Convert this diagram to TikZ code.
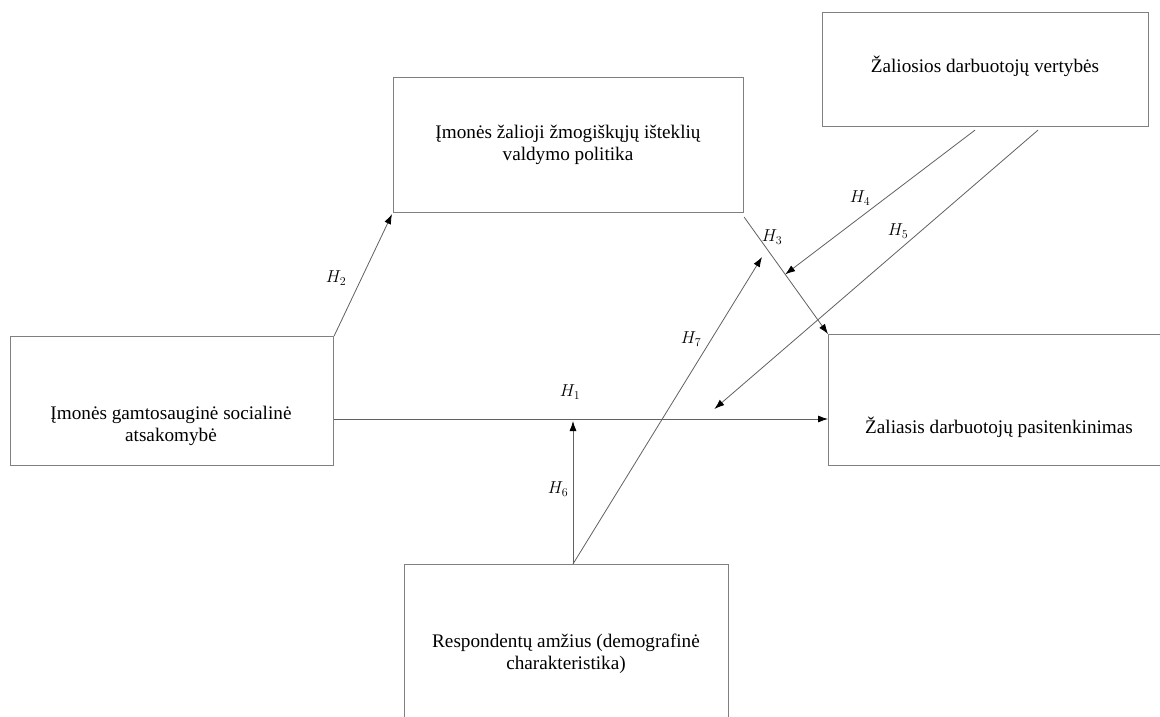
\documentclass[tikz,border=0pt]{standalone}
\usepackage{fontspec}
\setmainfont{Liberation Serif}
\usetikzlibrary{arrows.meta,calc}
\begin{document}
\begin{tikzpicture}[x=1pt,y=-1pt,
  box/.style={draw=black!50,line width=1.1pt,rectangle,inner sep=0pt,anchor=north west},
  txt/.style={align=center,font=\fontsize{19.2}{22}\selectfont,inner sep=0pt},
  hyp/.style={font=\fontsize{16.5}{19}\selectfont,inner sep=0pt},
  arr/.style={draw=black!62,line width=0.8pt,-{Latex[length=10pt,width=7pt,color=black]}},
  ln/.style={draw=black!62,line width=0.8pt}]
\clip (0,0) rectangle (1160,717);
\fill[white] (0,0) rectangle (1160,717);
% boxes
\node[box,minimum width=323pt,minimum height=129pt] (A) at (10,336) {};
\node[box,minimum width=350pt,minimum height=135pt] (B) at (393,77) {};
\node[box,minimum width=326pt,minimum height=114pt] (C) at (822,12) {};
\node[box,minimum width=342pt,minimum height=131pt] (D) at (828,334) {};
\node[box,minimum width=324pt,minimum height=180pt] (E) at (404,564) {};
% texts
\node[txt] (tA) at (171,426) {Įmonės gamtosauginė socialinė\\atsakomybė};
\node[txt] (tB) at (568,145) {Įmonės žalioji žmogiškųjų išteklių\\valdymo politika};
\node[txt] (tC) at (985,66) {Žaliosios darbuotojų vertybės};
\node[txt] (tD) at (999,427) {Žaliasis darbuotojų pasitenkinimas};
\node[txt] (tE) at (566,654) {Respondentų amžius (demografinė\\charakteristika)};
% connector end points
\coordinate (a1) at ($(A.north east)+(0,83)$);
\coordinate (d1) at ($(D.north west)+(0,85)$);
\coordinate (b2) at ($(B.south west)+(-1,1)$);
\coordinate (b3) at ($(B.south east)+(0,4)$);
\coordinate (c4) at ($(C.south west)+(153,3)$);
\coordinate (c5) at ($(C.south west)+(216,3)$);
\coordinate (e6) at ($(E.north west)+(169,0)$);
\coordinate (h6) at ($(e6 |- a1)+(0,2)$);
\coordinate (h7) at (762,257);
% arrows
\draw[arr] (a1) -- (d1) coordinate[pos=0.77] (h1five);
\draw[arr] (A.north east) -- (b2);
\draw[arr] (b3) -- (D.north west) coordinate[pos=0.49] (h3mid);
\draw[arr] (c4) -- (h3mid);
\draw[arr] (c5) -- ($(h1five)+(0,-10)$);
\draw[arr] (e6) -- (h6);
\draw[arr] (e6) -- (h7);
% labels
\node[hyp] (H1) at (570,392) {$H_1$};
\node[hyp] (H2) at (336,278) {$H_2$};
\node[hyp] (H3) at (772,237) {$H_3$};
\node[hyp] (H4) at (860,198) {$H_4$};
\node[hyp] (H5) at (898,231) {$H_5$};
\node[hyp] (H6) at (558,489) {$H_6$};
\node[hyp] (H7) at (691,339) {$H_7$};
\end{tikzpicture}
\end{document}
